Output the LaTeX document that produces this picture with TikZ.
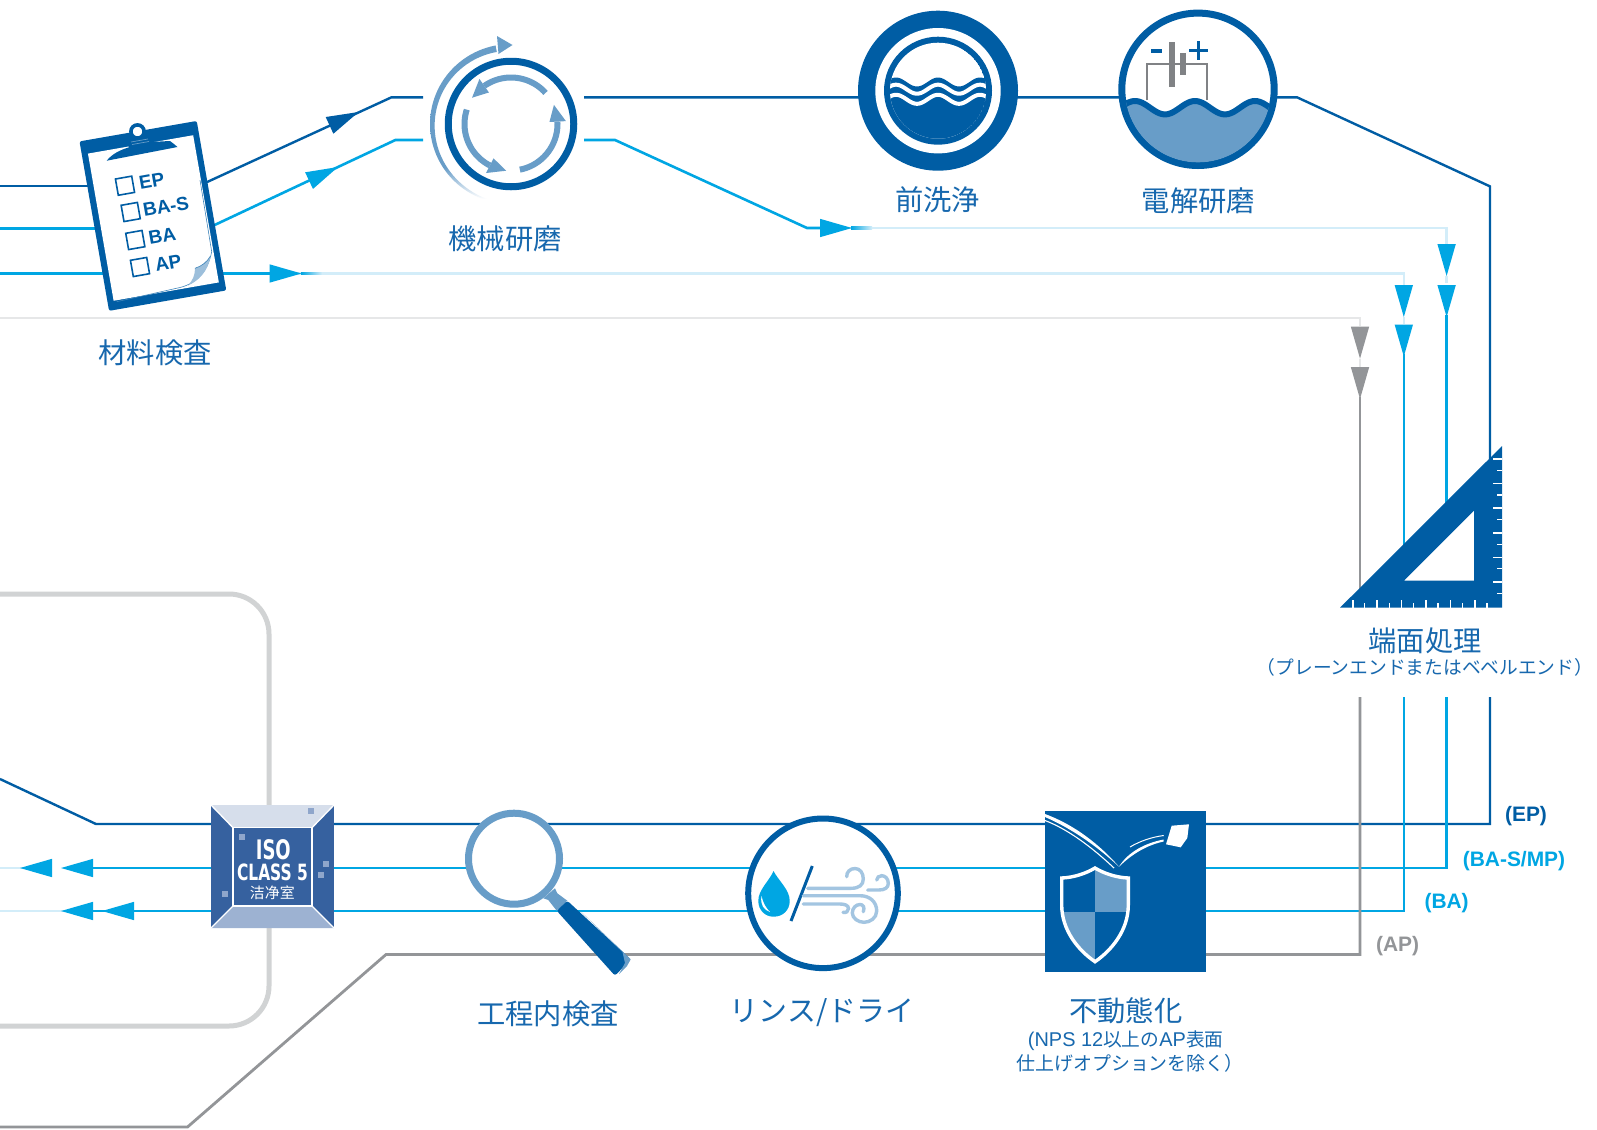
\documentclass[tikz,border=0pt]{standalone}
\usepackage{fontspec}
\setmainfont{Liberation Sans}
\newfontfamily\jp{Noto Sans CJK JP}
\newfontfamily\cnf{Noto Sans CJK SC}
\newfontfamily\djb{DejaVu Sans}
\usetikzlibrary{backgrounds,calc}
\definecolor{dk}{HTML}{005DA4}
\definecolor{cy}{HTML}{00A6E3}
\definecolor{md}{HTML}{689DC8}
\definecolor{gy}{HTML}{939598}
\definecolor{pc}{HTML}{D3EDF9}
\definecolor{pg}{HTML}{E6E7E8}
\definecolor{wall}{HTML}{D1D3D4}
\definecolor{tb}{HTML}{1768AE}
\definecolor{wnd}{HTML}{A3C5E1}
\definecolor{isob}{HTML}{36619F}
\definecolor{isot}{HTML}{D6DEEB}
\definecolor{isol}{HTML}{9DB2D2}
\definecolor{isos}{HTML}{8FA6CB}
\definecolor{circ}{HTML}{808285}
\pgfdeclareverticalshading{swfade}{100bp}{color(0bp)=(white); color(26bp)=(white); color(36bp)=(md); color(100bp)=(md)}
\newcommand{\fs}[1]{\fontsize{#1}{#1}\selectfont}
\newcommand{\ahead}[3]{\fill[#1,shift={(#2)},rotate=#3] (0,0) -- (-32,9.2) -- (-32,-9.2) -- cycle;}
\newcommand{\mechhead}[2]{\fill[md] ({511+47*cos(#2)},{124-47*sin(#2)}) -- ({511+55*cos(#1)},{124-55*sin(#1)}) -- ({511+38.5*cos(#1)},{124-38.5*sin(#1)}) -- cycle;}
\newcommand{\mecharc}[2]{\draw[md,line width=6bp] plot[domain=#1:#2,samples=30] ({511+46.5*cos(\x)},{124-46.5*sin(\x)});}
\tikzset{
  lab/.style={text=tb,font=\jp\fs{28.4},inner sep=0pt},
  sublab/.style={text=tb,font=\jp\fs{18.8},inner sep=0pt},
  tag/.style={font=\bfseries\fs{21},inner sep=0pt},
  cb/.style={font=\bfseries\fs{19},text=dk,inner sep=0pt,rotate=10,anchor=west},
  cbox/.style={draw=dk,line width=1.6bp,fill=white,minimum size=16.5bp,inner sep=0pt,rotate=10},
  epl/.style={dk,line width=2.4bp},
  cyl/.style={cy,line width=2.6bp},
  gyl/.style={gy,line width=2.8bp},
  pcl/.style={pc,line width=2.6bp},
  pgl/.style={pg,line width=2.8bp},
  windl/.style={wnd,line width=3.4bp,line cap=round},
  isoq/.style={fill=isos,minimum size=6bp,inner sep=0pt}
}
\begin{document}
\begin{tikzpicture}[x=1bp,y=-1bp]
\useasboundingbox (0,0) rectangle (1597,1129);

% ---------- stations ----------
\node[rectangle,rounded corners=2bp,fill=dk,rotate=9.9,minimum width=119bp,minimum height=172bp,inner sep=0pt] (clip) at (152.9,215.9) {};
\node[circle,draw=dk,line width=7bp,fill=white,minimum size=125.5bp,inner sep=0pt] (mech) at (511,124) {};
\node[circle,fill=dk,minimum size=160bp,inner sep=0pt] (wash) at (938,90.7) {};
\node[circle,draw=dk,line width=7bp,fill=white,minimum size=152.4bp,inner sep=0pt] (epc) at (1198,89.3) {};
\node[rectangle,inner sep=0pt,minimum width=162bp,minimum height=162bp] (bevel) at (1421,526.8) {};
\node[rectangle,fill=isob,minimum size=123bp,inner sep=0pt] (iso) at (272.5,866.5) {};
\node[circle,draw=md,line width=7bp,fill=white,minimum size=91bp,inner sep=0pt] (insp) at (514,858.7) {};
\node[circle,draw=dk,line width=6bp,fill=white,minimum size=149.6bp,inner sep=0pt] (rinse) at (823,893.3) {};
\node[rectangle,fill=dk,minimum size=161bp,inner sep=0pt] (pas) at (1125.5,891.5) {};

% ---------- connectors (behind the stations) ----------
\begin{scope}[on background layer]
\fill[white] (0,0) rectangle (1597,1129);
% clean-room wall
\draw[line width=5bp,draw=wall] (0,594) -- (229,594) arc[start angle=-90,end angle=0,radius=40] -- (269,986) arc[start angle=0,end angle=90,radius=40] -- (0,1026);

\coordinate (epIn) at (0,186);
\coordinate (epOut) at (205,183);
\coordinate (epK1) at (391.5,97.3);
\coordinate (epM1) at (423,97.3);
\coordinate (epM2) at (584,97.3);
\coordinate (epK2) at (1297,97.3);
\coordinate (epK3) at (1490,186.4);
\coordinate (epEnd) at (1490,461);
\coordinate (epL1) at (1490,697);
\coordinate (epL2) at (1490,824);
\coordinate (epL3) at (96,824);
\coordinate (epL4) at (0,779);
\draw[epl] (epIn) -- (clip |- epIn);
\draw[epl] (epOut) -- (epK1) -- (epM1);
\draw[epl] (epM2) -- (epK2) -- (epK3) -- (epEnd);
\draw[epl] (epL1) -- (epL2) -- (epL3) -- (epL4);

\coordinate (bsIn) at (0,228.5);
\coordinate (bsOut) at (214,225.3);
\coordinate (bsK1) at (395.4,140);
\coordinate (bsM1) at (423,140);
\coordinate (bsM2) at (584,140);
\coordinate (bsK2) at (615,140);
\coordinate (bsK3) at (807,228);
\coordinate (bsK4) at (845,228);
\coordinate (bsK5) at (1446.6,228);
\coordinate (bsV1) at (1446.6,244.5);
\coordinate (bsV2) at (1446.6,276);
\coordinate (bsV3) at (1446.6,283);
\coordinate (bsV4) at (1446.6,315);
\coordinate (bsEnd) at (1446.6,504);
\coordinate (bsL1) at (1446.6,697);
\coordinate (bsL2) at (1446.6,868);
\coordinate (bsL3) at (75,868);
\coordinate (bsL4) at (25,868);
\coordinate (bsL5) at (0,868);
\draw[cyl] (bsIn) -- (clip |- bsIn);
\draw[cyl] (bsOut) -- (bsK1) -- (bsM1);
\draw[cyl] (bsM2) -- (bsK2) -- (bsK3) -- (bsK4);
\draw[pcl] (bsK4) -- (bsK5) -- (bsV1);
\draw[pcl] (bsV2) -- (bsV3);
\draw[cyl] (bsV4) -- (bsEnd);
\draw[cyl] (bsL1) -- (bsL2) -- (bsL3);
\draw[pcl] (bsL4) -- (bsL5);

\coordinate (baIn) at (0,273.5);
\coordinate (baA) at (285,273.5);
\coordinate (baB) at (1403.8,273.5);
\coordinate (baV1) at (1403.8,285);
\coordinate (baV2) at (1403.8,317);
\coordinate (baV3) at (1403.8,324);
\coordinate (baV4) at (1403.8,354);
\coordinate (baEnd) at (1403.8,546);
\coordinate (baL1) at (1403.8,697);
\coordinate (baL2) at (1403.8,911);
\coordinate (baL3) at (70,911);
\coordinate (baL4) at (65,911);
\coordinate (baL5) at (0,911);
\draw[cyl] (baIn) -- (baA);
\draw[pcl] (baA) -- (baB) -- (baV1);
\draw[pcl] (baV2) -- (baV3);
\draw[cyl] (baV4) -- (baEnd);
\draw[cyl] (baL1) -- (baL2) -- (baL3);
\draw[pcl] (baL4) -- (baL5);

\coordinate (apIn) at (0,318);
\coordinate (apB) at (1360,318);
\coordinate (apV1) at (1360,326);
\coordinate (apV2) at (1360,358.6);
\coordinate (apV3) at (1360,366.7);
\coordinate (apV4) at (1360,397);
\coordinate (apEnd) at (1360,590);
\coordinate (apL1) at (1360,697);
\coordinate (apL2) at (1360,954.5);
\coordinate (apL3) at (386,954.5);
\coordinate (apL4) at (187.5,1127);
\coordinate (apL5) at (0,1127);
\draw[pgl] (apIn) -- (apB) -- (apV1);
\draw[pgl] (apV2) -- (apV3);
\draw[gyl] (apV4) -- (apEnd);
\draw[gyl] (apL1) -- (apL2) -- (apL3) -- (apL4) -- (apL5);
\end{scope}

% arrowheads
\ahead{dk}{358.6,112}{24.7}
\ahead{cy}{338,167}{25.2}
\ahead{cy}{852,228}{0}
\ahead{cy}{301.5,273.5}{0}
\ahead{cy}{1446.6,276}{-90}
\ahead{cy}{1446.6,317}{-90}
\ahead{cy}{1403.8,317}{-90}
\ahead{cy}{1403.8,356.5}{-90}
\ahead{gy}{1360,358.6}{-90}
\ahead{gy}{1360,399}{-90}
\ahead{cy}{61,868}{180}
\ahead{cy}{20,868}{180}
\ahead{cy}{102,911}{180}
\ahead{cy}{61,911}{180}
\shade[left color=cy,right color=pc] (301,272.2) rectangle (322,274.8);
\shade[left color=cy,right color=pc] (851,226.7) rectangle (872,229.3);

% ---------- clipboard ----------
\fill[white,rotate around={9.9:(153.4,218)}] (100,143.3) rectangle (206.8,292.7);
\fill[dk] (106.7,160.7) .. controls (112,154) and (120,150) .. (128.5,147.5) -- (129.5,134) -- (146,131) -- (150.5,142) -- (170,141) .. controls (173,143) and (175,145) .. (177.5,147) -- cycle;
\draw[dk,line width=3.6bp,fill=white] (137.5,131.5) circle[radius=6.6];
\draw[md,line width=.7bp] (131,142) -- (148,139) (132,144.5) -- (149,141.5);
% curled page corner
\draw[dk!75,line width=.6bp] (116.7,301.7) -- (180,287.5) .. controls (198,283) and (208,270) .. (211.7,251.7) -- (200,180);
\fill[md!65] (195,268.3) .. controls (202,266) and (207,262) .. (210.5,256) .. controls (208,272) and (198,281) .. (188,285.5) .. controls (193,280) and (195,275) .. cycle;
\draw[dk!75,line width=.6bp] (195,268.3) .. controls (202,266) and (207,262) .. (210.5,256);
\node[cbox] (c1) at (125,185.7) {};
\node[cbox] (c2) at (130.7,212) {};
\node[cbox] (c3) at (135.3,240) {};
\node[cbox] (c4) at (140,267) {};
\node[cb] (t1) at (139,183.5) {EP};
\node[cb] (t2) at (143,210.5) {BA-S};
\node[cb] (t3) at (148.5,238.5) {BA};
\node[cb] (t4) at (155,265) {AP};

% ---------- mechanical polishing ----------
\shade[shading=swfade] plot[domain=101:257,samples=50] ({511+81*cos(\x)},{124-80*sin(\x)}) -- plot[domain=257:101,samples=50] ({511+(81-6.6*sqrt(abs((257-\x)/156)))*cos(\x)},{124-(80-6.6*sqrt(abs((257-\x)/156)))*sin(\x)}) -- cycle;
\fill[md] (512.5,45) -- (497,36) -- (498.5,54) -- cycle;
\mecharc{42}{125}\mechhead{125}{146}
\mecharc{162}{243}\mechhead{243}{264}
\mecharc{281}{363}\mechhead{363}{384}

% ---------- pre-wash ----------
\fill[white] (wash) circle[radius=62.7];
\fill[dk] (wash) circle[radius=54];
\begin{scope}
\clip (wash) circle[radius=48];
\fill[white] (wash) circle[radius=48];
\fill[dk] plot[domain=885:991,samples=70] (\x,{82-4.5*cos((\x-938)/42*360)}) -- (991,150) -- (885,150) -- cycle;
\draw[white,line width=4bp] plot[domain=885:991,samples=70] (\x,{89.2-4.5*cos((\x-938)/42*360)});
\draw[white,line width=4bp] plot[domain=885:991,samples=70] (\x,{99.3-4.5*cos((\x-938)/42*360)});
\end{scope}

% ---------- electropolishing ----------
\draw[circ,line width=2bp] (1147,100) -- (1147,64) -- (1207,64) -- (1207,100);
\fill[circ] (1169,42) rectangle (1175,87);
\fill[circ] (1180,53) rectangle (1186,75);
\fill[dk] (1151,49) rectangle (1162,52.5);
\fill[dk] (1188.5,48.5) rectangle (1208,51.5);
\fill[dk] (1196.5,41) rectangle (1199.5,60);
\begin{scope}
\clip (epc) circle[radius=73];
\fill[md] plot[domain=1115:1280,samples=80] (\x,{107.7-6.7*cos((\x-1195)/60*360)}) -- (1280,170) -- (1115,170) -- cycle;
\draw[dk,line width=6bp] plot[domain=1115:1280,samples=80] (\x,{107.7-6.7*cos((\x-1195)/60*360)});
\end{scope}

% ---------- bevel square ----------
\fill[dk,even odd rule] (1340,607.7) -- (1502,446) -- (1502,607.7) -- cycle (1404,580.7) -- (1474,580.7) -- (1474,510.7) -- cycle;
\foreach \i in {0,...,5}{
  \draw[white,line width=1.7bp] ({1352.7+24.45*\i},607.7) -- ({1352.7+24.45*\i},600);
  \draw[white,line width=1.2bp] ({1364.7+24.45*\i},607.7) -- ({1364.7+24.45*\i},603.4);
  \draw[white,line width=1.7bp] (1502,{459+24.6*\i}) -- (1493.3,{459+24.6*\i});
  \draw[white,line width=1.2bp] (1502,{470.3+24.6*\i}) -- (1496.7,{470.3+24.6*\i});
}

% ---------- ISO box ----------
\fill[isot] (211,805) -- (334,805) -- (312,827.7) -- (233,827.7) -- cycle;
\fill[isol] (211,928) -- (334,928) -- (312,906) -- (233,906) -- cycle;
\draw[white,line width=1.3bp] (211,805) -- (233,827.7) (334,805) -- (312,827.7) (211,928) -- (233,906) (334,928) -- (312,906);
\draw[white,line width=1.3bp] (233,827.7) rectangle (312,906);
\node[isoq] (q1) at (310.7,810.7) {};
\node[isoq] (q2) at (241.7,836.7) {};
\node[isoq] (q3) at (225,894) {};
\node[isoq] (q4) at (325.7,864) {};
\node[isoq] (q5) at (320.7,875) {};
\node[text=white,font=\djb\bfseries\fs{27},inner sep=0pt] (iso1) at (273.3,850) {\scalebox{.67}[1]{ISO}};
\node[text=white,font=\djb\bfseries\fs{22.5},inner sep=0pt] (iso2) at (272.5,872.7) {\scalebox{.69}[1]{CLASS 5}};
\node[text=white,font=\cnf\fs{15},inner sep=0pt] (iso3) at (272.3,893) {洁净室};

% ---------- magnifier ----------
\fill[md] (543.3,898.3) -- (555,888.3) -- (557.3,893.3) -- (567.3,900.7) -- (556.7,910.7) -- (548.3,900) -- cycle;
\fill[dk,rounded corners=2.5bp] (567.3,900.7) -- (556.7,910.7) -- (615,975.7) -- (630.7,959.3) -- cycle;
\fill[md] (580,910.7) -- (630.7,959.3) -- (627,966) -- (619,974) -- (625,963) -- (622.5,952) -- cycle;

% ---------- rinse / dry ----------
\fill[cy] (773.5,871) .. controls (770,880) and (758,890) .. (758.3,901) .. controls (758.3,910) and (765,916.7) .. (773.5,916.7) .. controls (783,916.7) and (789.7,910) .. (789.7,901) .. controls (790,890) and (778,880) .. cycle;
\fill[white] (761.5,896) .. controls (760,905) and (764,910) .. (770,912) .. controls (766,908) and (763,903) .. cycle;
\draw[dk,line width=3bp] (812.3,866) -- (791,921);
\draw[windl] (807.7,888.3) -- (851,888.3) .. controls (859,888.3) and (863.3,885) .. (863.3,879) .. controls (863.3,873) and (860,868.5) .. (855,868.5) .. controls (850,868.5) and (846.5,872) .. (846.7,876.7);
\draw[windl] (803.3,895.7) -- (860,895.7) .. controls (870,895.7) and (876.7,902) .. (876.7,911) .. controls (876.7,918) and (870,922.3) .. (864,922.3) .. controls (858,922.3) and (852.3,918) .. (852.3,913) .. controls (852.3,908) and (856,904.5) .. (860,904.5) .. controls (863,904.5) and (865,907) .. (863.3,911.7);
\draw[windl] (803.3,904) -- (840,904) .. controls (845,904) and (848.5,905.5) .. (848.5,908.5) .. controls (848.5,911.5) and (846,913) .. (843,912.3);
\draw[windl] (867.7,890) -- (879,890) .. controls (885,890) and (888.3,887.5) .. (888.3,883.3) .. controls (888.3,878.5) and (885,875.7) .. (881.7,875.7) .. controls (879,875.7) and (876.7,877.5) .. (876.7,880);

% ---------- passivation ----------
\fill[white] (1045,814) .. controls (1075,825) and (1100,845) .. (1119,866.7) .. controls (1100,849) and (1075,830) .. (1045,817) -- cycle;
\draw[white,line width=1.1bp] (1045,820.5) .. controls (1070,830) and (1095,850) .. (1114,868);
\fill[white] (1119,866.7) .. controls (1128,852) and (1145,843) .. (1163.7,839.5) -- (1163.7,841.5) .. controls (1147,845) and (1132,854) .. cycle;
\draw[white,line width=1bp] (1130,847) .. controls (1140,841) and (1152,837) .. (1163.7,835.5);
\fill[white] (1171.7,825.7) -- (1189,824.3) -- (1187.3,838) -- (1180.7,847.3) -- (1166,844.3) -- cycle;
\begin{scope}
\clip (1095,868) .. controls (1085,874) and (1073,877.5) .. (1061.7,878) -- (1061.7,905) .. controls (1061.7,930) and (1078,950) .. (1095,961.7) .. controls (1112,950) and (1128.3,930) .. (1128.3,905) -- (1128.3,878) .. controls (1117,877.5) and (1105,874) .. cycle;
\fill[md] (1095,860) rectangle (1135,912);
\fill[md] (1055,912) rectangle (1095,965);
\end{scope}
\draw[white,line width=3.4bp,line join=miter] (1095,868) .. controls (1085,874) and (1073,877.5) .. (1061.7,878) -- (1061.7,905) .. controls (1061.7,930) and (1078,950) .. (1095,961.7) .. controls (1112,950) and (1128.3,930) .. (1128.3,905) -- (1128.3,878) .. controls (1117,877.5) and (1105,874) .. cycle;

% ---------- labels ----------
\node[lab] (l1) at (155,352.5) {材料検査};
\node[lab] (l2) at (505,239) {機械研磨};
\node[lab] (l3) at (937.5,200) {前洗浄};
\node[lab] (l4) at (1198.5,200.7) {電解研磨};
\node[lab] (l5) at (1425,641) {端面処理};
\node[sublab] (l5b) at (1425,667) {（プレーンエンドまたはベベルエンド）};
\node[lab] (l6) at (548,1013.6) {工程内検査};
\node[lab,font=\jp\fs{29}] (l7) at (822,1012.5) {リンス/ドライ};
\node[lab] (l8) at (1125.7,1010.5) {不動態化};
\node[sublab] (l8b) at (1125.7,1040.5) {{\rmfamily\fs{20}(NPS 12}以上の{\rmfamily\fs{20}AP}表面};
\node[sublab,font=\jp\fs{19}] (l8c) at (1130,1063) {仕上げオプションを除く）};
\node[tag,text=dk] (e1) at (1526,816.5) {(EP)};
\node[tag,text=cy] (e2) at (1514,861.5) {(BA-S/MP)};
\node[tag,text=cy] (e3) at (1446.6,903.5) {(BA)};
\node[tag,text=gy] (e4) at (1397.6,946.5) {(AP)};
\end{tikzpicture}
\end{document}
